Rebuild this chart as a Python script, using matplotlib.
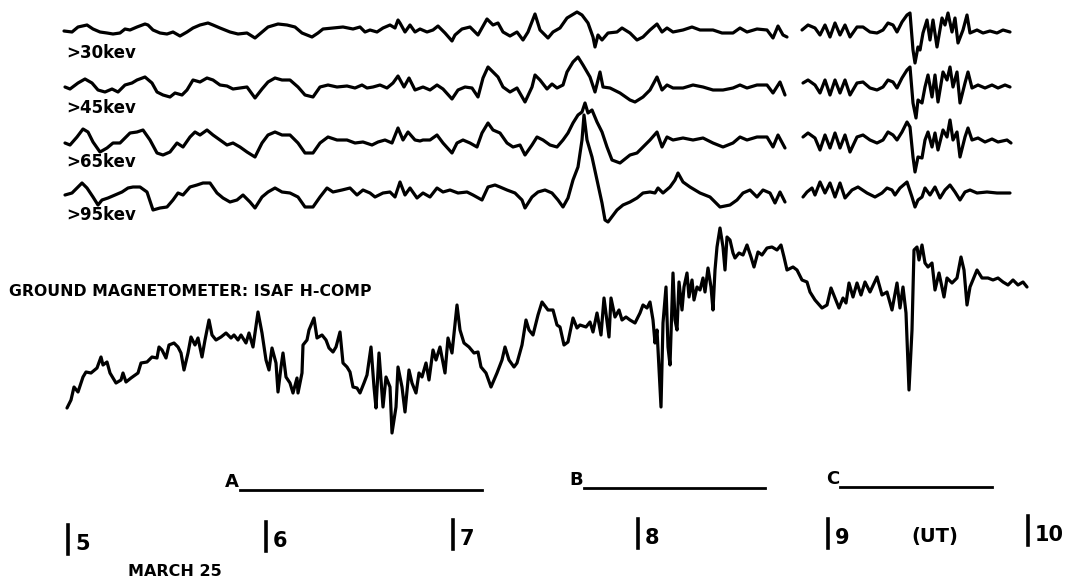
import numpy as np
import matplotlib
matplotlib.use("Agg")
import matplotlib.pyplot as plt

plt.rcParams['font.family'] = ['DejaVu Sans']
plt.rcParams['font.weight'] = 'bold'

# hour marks (UT) along the bottom, positions
hour_pos = [68, 266, 453, 638, 828, 1028]
hour_lbl = ['5', '6', '7', '8', '9', '10']
hour_bot = [554, 551, 549, 548, 548, 545]

# particle channels: (time position, deflection, up = more flux)
gap = np.nan
e30 = [(64, 1), (72, 0), (78, 5), (87, 7), (93, 3), (100, 0), (107, -1), (113, -2), (120, -1),
       (125, 3), (130, 2), (137, 5), (145, 8), (148, 7), (153, 2), (160, -1), (167, -2), (173, 0),
       (180, -4), (187, 0), (193, 4), (200, 7), (208, 9), (213, 7), (220, 4), (230, 0), (238, -2),
       (247, -1), (255, -6), (262, 0), (268, 5), (278, 8), (287, 7), (295, 5), (302, -1), (312, -5),
       (318, -1), (323, 3), (333, 4), (343, 5), (353, 3), (360, 5), (365, 0), (370, 2), (377, 0),
       (383, 4), (390, 7), (395, 4), (398, 12), (400, 9), (405, 0), (410, 7), (415, 0), (420, 3),
       (427, 0), (433, 2), (438, 6), (445, -1), (452, -9), (455, -3), (462, 3), (470, 5), (478, -3),
       (487, 13), (493, 7), (498, 9), (503, 0), (510, -4), (517, 0), (523, -8), (528, 0), (535, 18),
       (540, 2), (548, -6), (553, 0), (560, 4), (567, 14), (572, 17), (577, 20), (582, 17), (588, 9),
       (593, -5), (595, -15), (598, -3), (602, -8), (608, -1), (617, 0), (622, 4), (630, -1),
       (637, -8), (643, -5), (650, 2), (657, 8), (662, 0), (667, 4), (673, 0), (683, 2), (692, 5),
       (700, 2), (713, 2), (722, -1), (733, -1), (740, 4), (747, 0), (757, 3), (767, 2), (773, -6),
       (778, 6), (783, -3), (787, -5), (795, gap),
       (802, 2), (808, 7), (815, 4), (820, -3), (825, 7), (830, -5), (835, 9), (840, -3), (845, 7),
       (850, -5), (857, 5), (863, 5), (870, 0), (877, -1), (883, 2), (888, 9), (893, 7), (897, 0),
       (902, 10), (907, 17), (910, 19), (913, -18), (915, -31), (918, -15), (920, -18), (923, -1),
       (927, 12), (930, -8), (933, 12), (937, -15), (942, 14), (945, 7), (948, 19), (952, 0),
       (955, 14), (958, -11), (963, 2), (967, 17), (970, -1), (977, 2), (983, -1), (990, 1),
       (997, -1), (1003, 2), (1010, 0)]

e45 = [(65, 0), (70, -2), (78, 4), (85, 8), (92, 4), (98, -3), (105, -5), (112, -2), (118, -5),
       (125, 2), (132, 4), (137, 7), (145, 10), (152, 4), (157, -5), (163, -8), (170, -10),
       (175, -6), (182, -8), (187, -3), (193, 7), (200, 5), (207, 9), (213, 7), (220, 2), (227, 1),
       (233, -2), (240, -1), (247, 0), (255, -11), (262, -2), (268, 5), (275, 9), (282, 7), (290, 7),
       (298, 0), (305, -8), (313, -10), (320, 0), (328, 2), (337, 0), (347, 1), (355, -1), (362, 2),
       (367, -1), (373, 0), (380, 2), (387, -1), (393, 4), (398, 11), (404, 0), (409, 9), (415, -3),
       (423, 0), (430, -3), (437, 2), (443, -2), (452, -12), (458, -3), (465, 0), (472, -1),
       (478, -10), (483, 9), (488, 20), (493, 15), (498, 10), (503, 0), (510, -5), (517, -1),
       (525, -15), (532, 0), (535, 12), (540, 7), (547, -2), (552, 3), (557, -1), (563, 2), (567, 15),
       (573, 25), (578, 30), (583, 22), (590, 10), (595, -5), (600, 15), (603, 0), (610, -1),
       (620, -6), (630, -13), (635, -15), (643, -10), (650, -3), (657, 10), (662, -3), (667, 2),
       (673, -1), (683, -1), (693, 2), (703, 0), (713, -3), (723, -3), (733, -1), (740, 2), (747, -1),
       (757, 2), (767, 2), (773, -6), (780, 5), (785, -8), (795, gap),
       (803, 4), (808, 7), (815, 2), (820, -6), (825, 7), (830, -8), (835, 7), (840, -6), (845, 7),
       (850, -8), (857, 4), (863, 5), (870, -1), (877, -3), (883, 0), (888, 7), (893, 5), (897, -1),
       (902, 9), (907, 17), (910, 20), (913, -16), (916, -31), (918, -13), (922, -16), (925, 0),
       (928, 12), (932, -10), (935, 12), (938, -15), (943, 15), (947, 7), (950, 20), (953, 0),
       (957, 15), (960, -16), (965, 4), (968, 15), (972, -1), (978, 2), (985, -1), (992, 2),
       (998, -1), (1005, 2), (1010, 0)]

e65 = [(65, -1), (70, -3), (77, 5), (83, 13), (88, 10), (93, 0), (100, -10), (107, -6), (113, -1),
       (120, -1), (125, 4), (130, 9), (137, 10), (143, 12), (150, 2), (157, -11), (163, -13),
       (170, -10), (177, -1), (183, -5), (190, 5), (195, 10), (200, 7), (207, 12), (213, 7), (220, 2),
       (227, -3), (233, -1), (240, -5), (247, -10), (255, -15), (262, -1), (268, 7), (275, 10),
       (282, 7), (290, 7), (298, -1), (305, -11), (313, -11), (320, -1), (328, 5), (337, 2), (347, 2),
       (355, -1), (363, 0), (372, -3), (378, 0), (385, 2), (392, -1), (398, 14), (403, 2), (408, 10),
       (415, 2), (420, 1), (423, 2), (430, 2), (437, 7), (443, -1), (452, -11), (457, -1), (463, 2),
       (470, -1), (477, -5), (482, 9), (488, 19), (493, 12), (500, 9), (507, -1), (513, -5), (520, -3),
       (525, -13), (532, -3), (537, 5), (543, 2), (550, -3), (557, -5), (563, 2), (568, 9), (573, 19),
       (578, 27), (582, 30), (585, 39), (588, 29), (592, 32), (597, 20), (602, 10), (607, -5),
       (612, -18), (620, -21), (630, -13), (637, -11), (643, -5), (650, 2), (657, 10), (662, -5),
       (667, 5), (673, 2), (683, 4), (693, 2), (703, 4), (713, -1), (723, -5), (733, -1), (740, 5),
       (747, 2), (757, 5), (767, 5), (773, -5), (778, 7), (785, -6), (795, gap),
       (803, 5), (808, 9), (815, 4), (820, -8), (825, 7), (830, -6), (835, 9), (840, -6), (845, 7),
       (850, -10), (857, 5), (863, 7), (870, 2), (877, -1), (883, 2), (888, 10), (893, 7), (897, 2),
       (902, 10), (907, 20), (910, 15), (913, -15), (915, -30), (918, -15), (922, -16), (925, 2),
       (928, 10), (932, -5), (935, 9), (938, -8), (943, 12), (947, 5), (950, 22), (953, 2), (957, 10),
       (960, -15), (965, 5), (968, 14), (972, 2), (978, 4), (985, 0), (992, 3), (998, 0), (1007, 2),
       (1011, -1)]

e95 = [(65, -2), (72, 0), (82, 10), (87, 5), (93, -4), (98, -12), (102, -7), (108, -5), (115, -2),
       (122, 1), (128, 5), (133, 6), (140, 6), (147, 1), (153, -17), (160, -15), (167, -14),
       (173, -7), (178, 0), (183, -2), (190, 6), (197, 8), (203, 10), (210, 10), (217, 0), (223, -5),
       (230, -9), (237, -7), (243, -2), (250, -9), (255, -15), (262, -4), (268, 1), (275, 5), (282, 1),
       (290, 0), (298, -4), (305, -14), (313, -14), (320, -4), (327, 5), (333, 1), (342, 3), (350, 5),
       (357, -2), (363, 3), (370, 0), (375, -4), (383, 0), (390, 1), (395, -4), (400, 11), (405, -2),
       (410, 5), (417, -5), (423, 0), (430, -4), (437, 5), (443, 1), (450, 3), (458, 0), (467, 1),
       (473, -2), (482, -7), (488, 6), (495, 8), (500, 6), (507, 3), (515, 0), (522, -7), (525, -15),
       (532, -4), (538, 1), (545, 3), (552, 0), (558, -7), (563, -14), (568, -5), (573, 13), (578, 26),
       (582, 53), (584, 78), (587, 53), (592, 36), (597, 13), (602, -10), (605, -27), (608, -29),
       (617, -17), (623, -12), (630, -9), (637, -5), (643, 0), (650, 1), (655, 0), (658, 5), (663, 0),
       (670, 6), (675, 13), (678, 20), (683, 11), (690, 6), (700, 0), (710, -4), (720, -14),
       (730, -12), (737, -7), (743, 0), (750, 3), (757, -4), (763, 3), (770, 0), (775, -10), (780, 1),
       (785, -9), (795, gap),
       (803, -4), (807, 1), (812, 5), (815, -2), (820, 11), (825, 0), (830, 10), (835, -4), (840, 10),
       (845, -5), (852, 3), (858, 6), (867, 0), (875, -4), (882, 0), (887, 5), (892, 3), (895, -2),
       (900, 5), (907, 11), (912, -4), (915, -14), (918, -7), (922, -4), (925, 5), (930, -2), (935, 6),
       (940, -5), (945, 3), (950, 8), (955, 1), (960, -7), (965, 1), (970, 3), (977, 0), (987, 1),
       (997, 0), (1010, 0)]

channels = ['>30kev', '>45kev', '>65kev', '>95kev']

# ISAF ground magnetometer, H component (up = larger H)
isaf_h = [(67, -58), (71, -50), (74, -37), (78, -42), (83, -27), (86, -22), (91, -23), (97, -18),
          (101, -7), (103, -15), (107, -12), (110, -23), (116, -33), (121, -30), (123, -23),
          (126, -32), (131, -28), (138, -23), (141, -13), (147, -12), (152, -7), (157, -8), (159, 3),
          (162, 0), (166, -8), (169, 5), (174, 7), (178, 3), (181, -3), (184, -20), (188, -3),
          (191, 13), (195, 5), (198, 12), (202, -7), (205, 10), (209, 30), (212, 15), (216, 10),
          (221, 13), (226, 17), (231, 12), (234, 15), (238, 10), (241, 15), (246, 7), (249, 17),
          (253, 3), (258, 38), (262, 17), (266, -10), (269, -20), (272, 2), (276, -13), (278, -42),
          (281, -17), (283, -3), (286, -27), (290, -33), (293, -43), (297, -28), (298, -43),
          (302, -23), (303, 5), (307, 10), (309, 20), (314, 32), (317, 12), (322, 15), (326, 10),
          (329, 2), (333, -2), (336, 3), (340, 18), (343, -13), (347, -17), (350, -22), (353, -37),
          (357, -38), (360, -43), (364, -33), (367, -25), (371, 3), (374, -37), (376, -58), (379, -3),
          (383, -57), (386, -27), (390, -37), (392, -83), (396, -57), (398, -17), (402, -37),
          (405, -62), (409, -20), (412, -33), (416, -43), (419, -23), (422, -27), (426, -13),
          (429, -30), (433, 0), (436, -10), (440, 3), (445, -23), (448, 12), (452, -3), (457, 45),
          (460, 20), (464, 7), (469, 3), (474, -3), (478, -2), (481, -17), (486, -23), (491, -37),
          (497, -23), (502, -10), (505, 3), (509, -10), (514, -17), (517, -13), (522, 5), (526, 30),
          (529, 20), (533, 15), (538, 35), (542, 48), (548, 40), (553, 40), (557, 25), (560, 23),
          (564, 5), (568, 8), (573, 32), (577, 22), (580, 25), (586, 23), (590, 28), (593, 18),
          (597, 37), (601, 15), (604, 52), (609, 13), (611, 52), (615, 33), (619, 40), (622, 30),
          (626, 33), (630, 30), (635, 27), (640, 37), (643, 45), (647, 42), (650, 48), (653, 30),
          (655, 7), (657, 20), (661, -57), (663, 27), (666, 63), (668, 3), (670, -15), (673, 77),
          (675, 30), (677, 20), (679, 68), (682, 40), (684, 63), (687, 77), (689, 53), (692, 70),
          (694, 50), (697, 63), (700, 60), (703, 72), (705, 58), (708, 82), (711, 63), (713, 40),
          (715, 80), (717, 103), (720, 122), (723, 103), (725, 80), (727, 113), (730, 110), (733, 97),
          (735, 92), (739, 97), (743, 95), (747, 105), (751, 93), (754, 83), (758, 98), (762, 95),
          (767, 102), (772, 103), (777, 100), (781, 105), (784, 93), (787, 80), (793, 83), (797, 80),
          (802, 70), (807, 68), (810, 58), (815, 50), (822, 42), (827, 45), (831, 62), (835, 52),
          (839, 42), (843, 52), (846, 47), (849, 67), (853, 53), (857, 67), (861, 55), (865, 68),
          (870, 58), (877, 73), (882, 55), (887, 58), (892, 40), (897, 67), (900, 42), (903, 63),
          (906, 37), (909, -40), (912, 20), (914, 100), (917, 103), (919, 90), (922, 105), (925, 87),
          (928, 83), (932, 87), (935, 60), (939, 77), (944, 53), (947, 72), (952, 67), (957, 72),
          (961, 93), (964, 80), (967, 45), (970, 63), (977, 80), (982, 72), (988, 72), (993, 70),
          (998, 72), (1003, 68), (1008, 65), (1013, 70), (1018, 65), (1023, 68), (1027, 63)]

# time bars for the intervals A, B, C
intervals = ['A', 'B', 'C']
interval_start = [240, 584, 840]
interval_end = [482, 765, 992]

fig = plt.figure(figsize=(10.73, 5.82), dpi=100)
ax = fig.add_axes([0, 0, 1, 1])
ax.set_xlim(0, 1073)
ax.set_ylim(582, 0)
ax.axis('off')

lw = 2.3
row_base = [32, 87, 142, 193]
label_y = [53, 108, 162, 215]
for name, trace, base, ly in zip(channels, [e30, e45, e65, e95], row_base, label_y):
    xs, ys = zip(*trace)
    ax.plot(xs, base - np.array(ys, dtype=float), color='black', lw=lw,
            solid_joinstyle='round', solid_capstyle='round')
    ax.text(66, ly, name, fontsize=12, va='center', ha='left')

mx, my = zip(*isaf_h)
ax.plot(mx, 350 - np.array(my, dtype=float), color='black', lw=lw,
        solid_joinstyle='round', solid_capstyle='round')
ax.text(9, 292, 'GROUND MAGNETOMETER: ISAF H-COMP', fontsize=11.3, va='center', ha='left')

line_y = [490, 488, 487]
for lab, x0, x1, yy in zip(intervals, interval_start, interval_end, line_y):
    ax.plot([x0, x1], [yy, yy], color='black', lw=2.0)
    ax.text(x0 - 1, yy + 1, lab, fontsize=13, va='bottom', ha='right')

for xp, lab, yb in zip(hour_pos, hour_lbl, hour_bot):
    ax.plot([xp, xp], [yb - 29, yb], color='black', lw=2.6)
    ax.text(xp + 7, yb, lab, fontsize=15, va='bottom', ha='left')

ax.text(935, 546, '(UT)', fontsize=14, va='bottom', ha='center')
ax.text(128, 571, 'MARCH 25', fontsize=11.5, va='center', ha='left')

fig.savefig('out.png', dpi=100)
